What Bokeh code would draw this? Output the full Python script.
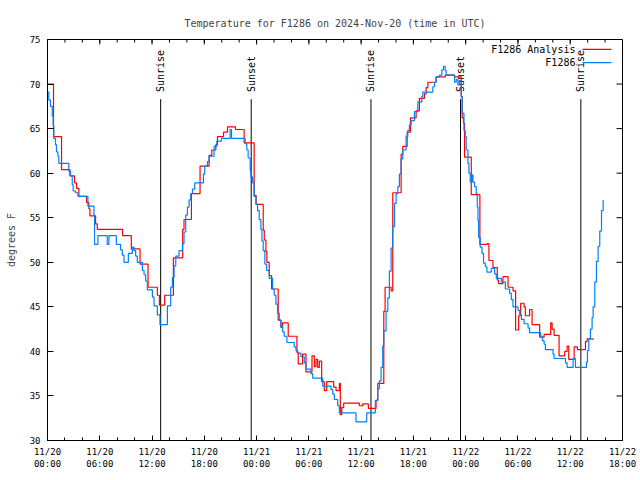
from datetime import datetime, timedelta
from math import pi

from bokeh.plotting import figure
from bokeh.models import (Range1d, FixedTicker, DatetimeTickFormatter, ColumnDataSource)
from bokeh.core.properties import value
from bokeh.embed import file_html
from bokeh.resources import INLINE

# ---------------- data ----------------
START = datetime(2024, 11, 20, 0, 0)
TITLE = "Temperature for F1286 on 2024-Nov-20 (time in UTC)"
Y_LABEL = "degrees F"
series_names = ["F1286 Analysis", "F1286"]

# F1286 Analysis (hours after 2024-11-20 00:00 UTC, degrees F)
analysis_hours = [0.00, 0.69, 1.61, 2.57, 3.10, 3.33, 3.60, 4.48, 4.75, 4.87, 5.52, 5.71,
                  8.62, 9.62, 10.62, 11.54, 12.61, 12.84, 13.45, 14.45, 15.52, 15.67,
                  16.52, 17.51, 18.55, 18.86, 19.32, 19.51, 20.20, 20.66, 21.58, 22.57,
                  23.72, 23.95, 24.76, 24.88, 25.07, 25.18, 25.45, 25.72, 26.48, 26.79,
                  26.98, 27.63, 28.63, 28.78, 29.28, 29.67, 30.36, 30.63, 30.82, 31.01,
                  31.20, 31.47, 31.77, 32.05, 32.85, 33.12, 33.50, 33.61, 33.77, 34.00,
                  35.79, 36.18, 36.83, 37.71, 37.91, 38.60, 38.75, 39.44, 39.63, 40.59,
                  40.78, 41.28, 41.66, 42.31, 42.69, 43.27, 43.46, 43.66, 44.61, 45.65,
                  46.72, 47.49, 47.60, 47.75, 47.87, 48.64, 49.63, 50.48, 50.67, 51.13,
                  51.63, 51.78, 52.28, 52.86, 53.43, 53.73, 54.08, 54.31, 54.70, 54.85,
                  55.34, 55.62, 56.49, 57.00, 57.76, 57.92, 58.15, 58.72, 59.37, 59.64,
                  59.83, 60.45, 60.83, 61.75, 61.94, 62.63]
analysis_temps = [70.0, 64.1, 60.4, 59.7, 58.9, 58.3, 57.4, 56.7, 56.0, 55.2, 54.3, 53.7,
                  53.0, 51.5, 49.8, 47.2, 46.3, 45.2, 46.3, 50.5, 53.7, 54.8,
                  57.7, 60.8, 62.0, 62.6, 63.2, 64.1, 64.6, 65.2, 64.9, 63.4,
                  57.5, 56.5, 53.6, 52.5, 51.2, 50.0, 48.5, 47.0, 43.5, 42.7,
                  43.2, 41.7, 39.9, 38.6, 39.7, 37.7, 39.5, 38.3, 39.1, 38.2,
                  38.9, 36.6, 35.6, 36.6, 36.0, 35.6, 36.4, 32.9, 33.7, 34.2,
                  33.9, 34.1, 33.6, 34.5, 36.4, 44.5, 47.2, 46.8, 57.8, 62.1,
                  63.0, 64.6, 66.2, 67.0, 68.4, 68.9, 69.6, 70.2, 70.8, 71.0,
                  70.8, 68.6, 66.2, 65.6, 61.8, 57.6, 52.0, 52.1, 50.2, 49.4,
                  48.0, 47.6, 48.4, 47.2, 46.8, 42.4, 44.0, 45.4, 45.0, 44.0,
                  44.7, 43.0, 41.6, 41.9, 43.2, 42.5, 41.8, 39.5, 40.0, 40.6,
                  39.1, 40.5, 40.2, 41.1, 41.4, 41.3]

# F1286 observations
obs_hours = [0.00, 0.15, 0.34, 0.54, 0.65, 0.73, 0.92, 1.03, 1.19, 1.30, 2.45, 2.64,
             2.84, 2.95, 3.22, 3.49, 4.64, 5.33, 5.40, 5.79, 6.86, 7.05, 7.90, 8.39,
             8.59, 8.78, 9.28, 9.74, 9.93, 10.12, 10.31, 10.89, 11.08, 11.27, 11.46,
             12.04, 12.23, 12.61, 12.91, 13.76, 14.14, 14.34, 14.53, 14.72, 15.10,
             15.49, 15.67, 15.87, 16.06, 16.25, 16.44, 16.64, 16.90, 17.90, 18.05,
             18.36, 18.55, 19.12, 19.43, 19.97, 20.96, 21.12, 22.69, 22.88, 23.03,
             23.26, 23.34, 23.54, 23.72, 23.92, 24.11, 24.30, 24.49, 24.61, 24.76,
             24.95, 25.15, 25.45, 25.84, 26.02, 26.22, 26.41, 26.60, 26.79, 26.98,
             27.17, 27.48, 28.32, 28.52, 28.71, 29.09, 29.47, 29.67, 30.24, 30.44,
             31.59, 32.54, 32.74, 32.92, 33.31, 33.50, 35.41, 36.64, 37.63, 37.91,
             38.09, 38.29, 38.48, 38.60, 38.86, 39.06, 39.24, 39.44, 39.63, 39.82,
             40.01, 40.21, 40.39, 40.59, 40.78, 41.16, 41.36, 41.54, 41.74, 42.12,
             42.51, 42.97, 43.08, 44.23, 44.42, 44.61, 44.99, 45.27, 45.45, 45.65,
             45.76, 46.72, 46.91, 47.11, 47.29, 47.49, 47.60, 47.80, 47.95, 48.06,
             48.26, 48.37, 48.52, 48.72, 48.83, 49.02, 49.21, 49.33, 49.41, 49.48,
             49.67, 49.87, 50.05, 50.25, 50.44, 50.94, 51.32, 51.51, 52.09, 52.55,
             53.04, 53.24, 53.43, 54.01, 54.20, 54.39, 54.70, 55.16, 55.34, 56.61,
             56.80, 57.00, 57.15, 58.03, 58.15, 59.45, 59.64, 60.33, 60.60, 61.86,
             61.98, 62.13, 62.32, 62.51, 62.63, 62.82, 63.01, 63.20, 63.39, 63.59,
             63.78]
obs_temps = [69.1, 68.2, 67.5, 66.4, 65.3, 63.9, 63.2, 62.4, 61.9, 61.1, 60.2, 59.7,
             58.7, 58.0, 57.8, 57.4, 56.3, 55.3, 52.0, 53.0, 52.0, 53.0, 52.0, 51.4,
             50.8, 50.0, 51.0, 51.7, 51.3, 50.7, 50.0, 49.1, 48.6, 47.9, 46.9,
             46.1, 45.1, 44.1, 43.0, 45.1, 47.2, 48.3, 49.6, 50.7, 51.3,
             52.1, 53.4, 55.3, 56.2, 57.0, 57.7, 58.2, 58.9, 59.9, 60.8,
             61.3, 61.9, 63.0, 63.6, 63.9, 64.9, 63.9, 63.3, 62.6, 61.7,
             60.3, 59.6, 58.9, 57.4, 56.5, 55.8, 54.8, 53.7, 52.4, 51.3,
             49.8, 49.1, 48.2, 47.0, 46.3, 45.3, 44.3, 43.5, 42.8, 42.2,
             41.7, 41.0, 40.5, 40.1, 39.8, 39.4, 38.7, 38.0, 37.5, 37.0,
             36.1, 35.7, 35.2, 34.6, 33.9, 33.1, 32.1, 33.1, 34.5, 35.8,
             36.7, 38.2, 40.6, 42.3, 44.5, 46.0, 49.0, 51.6, 54.0, 56.6,
             57.7, 58.5, 59.9, 61.6, 62.6, 64.1, 64.8, 65.4, 65.9, 66.9,
             68.0, 68.6, 69.1, 69.7, 70.2, 70.8, 71.0, 71.6, 72.0, 71.5,
             71.0, 70.2, 70.5, 69.9, 70.4, 68.6, 66.7, 64.8, 64.1, 62.6,
             61.1, 60.0, 59.0, 59.8, 59.0, 58.5, 57.7, 56.2, 54.7, 52.8,
             51.7, 51.0, 49.9, 49.5, 48.9, 49.3, 48.7, 48.2, 47.8, 47.0,
             46.5, 45.8, 45.0, 44.6, 44.1, 43.6, 43.1, 42.6, 42.1, 41.7,
             41.2, 40.8, 40.2, 39.7, 39.2, 38.7, 38.2, 39.2, 38.2, 38.8,
             40.1, 41.4, 42.5, 43.8, 45.0, 47.8, 50.1, 51.8, 53.5, 55.8,
             57.0]

# Sun events (hours after start)
sun_hours = [12.99, 23.38, 37.13, 47.41, 61.22]
sun_names = ["Sunrise", "Sunset", "Sunrise", "Sunset", "Sunrise"]

# Axis ticks
x_tick_hours = [0, 6, 12, 18, 24, 30, 36, 42, 48, 54, 60, 66]
x_minor_hours = list(range(0, 67, 2))
y_ticks = [30, 35, 40, 45, 50, 55, 60, 65, 70, 75]
X_END_HOURS = 66
Y_MIN, Y_MAX = 30, 75

# ---------------- helpers ----------------
EPOCH = datetime(1970, 1, 1)


def t(h):
    return START + timedelta(hours=h)


def ms(h):
    return (t(h) - EPOCH).total_seconds() * 1000.0


FONT = "DejaVu Sans Mono"
RED = "#ff0000"
BLUE = "#0080ff"

p = figure(width=640, height=480, x_axis_type="datetime",
           output_backend="svg", toolbar_location=None,
           x_range=Range1d(t(0), t(X_END_HOURS)), y_range=Range1d(Y_MIN, Y_MAX),
           min_border_left=47, min_border_right=18, min_border_top=39,
           min_border_bottom=40)
p.background_fill_color = "white"
p.border_fill_color = "white"
p.outline_line_color = "black"
p.outline_line_width = 1
p.grid.visible = False

p.title.text = TITLE
p.title.align = "center"
p.title.text_font = FONT
p.title.text_font_size = "10px"
p.title.text_font_style = "normal"
p.title.standoff = 21

xticker = FixedTicker(ticks=[ms(h) for h in x_tick_hours],
                      minor_ticks=[ms(h) for h in x_minor_hours])
yticker = FixedTicker(ticks=y_ticks, minor_ticks=[])
fmt = "%m/%d\n%H:%M"
xfmt = DatetimeTickFormatter(microseconds=fmt, milliseconds=fmt, seconds=fmt,
                             minsec=fmt, minutes=fmt, hourmin=fmt, hours=fmt,
                             days=fmt, months=fmt, years=fmt)


def style_axis(ax, maj, mnr):
    ax.axis_line_color = "black"
    ax.major_tick_in = maj
    ax.major_tick_out = 0
    ax.minor_tick_in = mnr
    ax.minor_tick_out = 0
    ax.major_tick_line_color = "black"
    ax.minor_tick_line_color = "black"
    ax.major_label_text_font = FONT
    ax.major_label_text_color = "black"
    ax.major_label_text_font_size = "9px"


xa = p.xaxis[0]
xa.ticker = xticker
xa.formatter = xfmt
style_axis(xa, 5, 3)
xa.major_label_standoff = 6

ya = p.yaxis[0]
ya.ticker = yticker
style_axis(ya, 6, 0)
ya.major_label_standoff = 7
ya.axis_label = Y_LABEL
ya.axis_label_text_font = FONT
ya.axis_label_text_font_size = "10px"
ya.axis_label_text_font_style = "normal"
ya.axis_label_standoff = 10

# mirrored inward ticks on top and right edges
p.ray(x=[t(h) for h in x_tick_hours], y=Y_MAX, length=5, length_units="screen",
      angle=-pi / 2, line_color="black", line_width=1)
p.ray(x=[t(h) for h in x_minor_hours], y=Y_MAX, length=3, length_units="screen",
      angle=-pi / 2, line_color="black", line_width=1)
p.ray(x=t(X_END_HOURS), y=y_ticks, length=6, length_units="screen",
      angle=pi, line_color="black", line_width=1)

# Sun event lines and labels
LINE_TOP = 68.3
LABEL_BASE = 69.1
sun_src = ColumnDataSource(dict(x=[t(h) for h in sun_hours],
                                y0=[Y_MIN] * len(sun_hours),
                                y1=[LINE_TOP] * len(sun_hours),
                                ly=[LABEL_BASE] * len(sun_hours),
                                name=sun_names))
p.segment(x0="x", y0="y0", x1="x", y1="y1", source=sun_src,
          line_color="black", line_width=1)
p.text(x="x", y="ly", text="name", source=sun_src, angle=pi / 2,
       text_align="left", text_baseline="middle", text_font=value(FONT),
       text_font_size="10px", text_color="black")

# Data series
p.step(x=[t(h) for h in analysis_hours], y=analysis_temps, mode="after",
       line_color=RED, line_width=1.2)
p.step(x=[t(h) for h in obs_hours], y=obs_temps, mode="after",
       line_color=BLUE, line_width=1.2)

# Gnuplot-style key (text, then line sample) at top right
KEY_TEXT_END = 60.6
KEY_LINE = (61.4, 64.74)
KEY_Y = [73.9, 72.4]
key_src = ColumnDataSource(dict(x=[t(KEY_TEXT_END)] * 2, y=KEY_Y, name=series_names,
                                x0=[t(KEY_LINE[0])] * 2, x1=[t(KEY_LINE[1])] * 2,
                                c=[RED, BLUE]))
p.text(x="x", y="y", text="name", source=key_src, text_align="right",
       text_baseline="middle", text_font=value(FONT), text_font_size="10px",
       text_color="black")
p.segment(x0="x0", y0="y", x1="x1", y1="y", color="c", source=key_src, line_width=1.2)

open("out.html", "w").write(file_html(p, INLINE))
